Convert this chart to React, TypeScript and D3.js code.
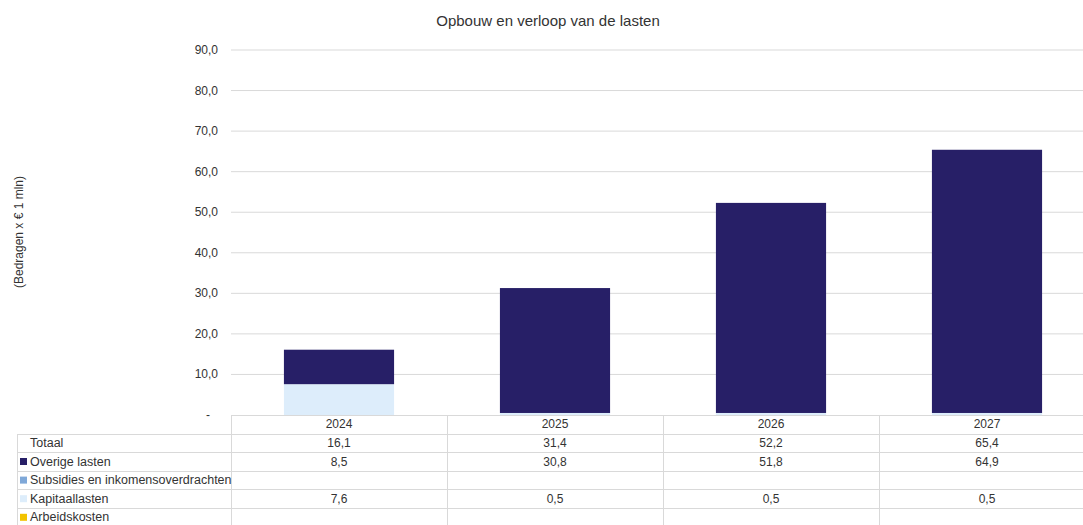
import { useEffect, useRef } from "react";
import * as d3 from "d3";

// ── Data ──────────────────────────────────────────────────────────────────────

const YEARS = ["2024", "2025", "2026", "2027"];
const TOTAAL = [16.1, 31.4, 52.2, 65.4];
const OVERIGE = [8.5, 30.8, 51.8, 64.9];
const SUBSIDIES: (number | null)[] = [null, null, null, null];
const KAPITAAL = [7.6, 0.5, 0.5, 0.5];
const ARBEID: (number | null)[] = [null, null, null, null];
const Y_TICKS = [0, 10, 20, 30, 40, 50, 60, 70, 80, 90];

const SERIES = [
  { name: "Overige lasten", color: "#271F67", values: OVERIGE },
  { name: "Subsidies en inkomensoverdrachten", color: "#7FA8D8", values: SUBSIDIES },
  { name: "Kapitaallasten", color: "#DDEDFB", values: KAPITAAL },
  { name: "Arbeidskosten", color: "#F2C300", values: ARBEID },
];

// ── Tokens ────────────────────────────────────────────────────────────────────

const W = 1083, H = 525;
const FONT = "'Liberation Sans', Arial, sans-serif";
const TXT = "#333333";
const GRID = "#D9D9D9";
const fmt = (v: number | null) => (v == null ? "" : v.toFixed(1).replace(".", ","));

export default function App() {
  const svgRef = useRef<SVGSVGElement>(null);

  useEffect(() => {
    document.body.style.margin = "0";
    if (!svgRef.current) return;

    const m = { left: 231, right: W, top: 50, bottom: 415 };

    const x = d3.scaleBand().domain(YEARS).range([m.left, m.left + 864]).paddingInner(0).paddingOuter(0);
    const y = d3.scaleLinear().domain([0, 90]).range([m.bottom, m.top]);
    const barW = x.bandwidth() * 0.51;

    const svg = d3.select(svgRef.current);
    svg.selectAll("*").remove();

    // Title
    svg.append("text")
      .attr("x", 548).attr("y", 26)
      .attr("text-anchor", "middle")
      .attr("font-size", "15px").attr("font-family", FONT).attr("fill", TXT)
      .text("Opbouw en verloop van de lasten");

    // Y label
    svg.append("text")
      .attr("transform", `translate(23,232) rotate(-90)`)
      .attr("text-anchor", "middle")
      .attr("font-size", "12px").attr("font-family", FONT).attr("fill", TXT)
      .text("(Bedragen x € 1 mln)");

    // Grid
    svg.append("g").selectAll("line")
      .data(Y_TICKS.filter(t => t > 0))
      .join("line")
      .attr("x1", m.left).attr("x2", W)
      .attr("y1", d => y(d)).attr("y2", d => y(d))
      .attr("stroke", GRID).attr("stroke-width", 1);

    // Y tick labels
    svg.append("g").selectAll("text")
      .data(Y_TICKS)
      .join("text")
      .attr("x", d => (d === 0 ? 210 : 218))
      .attr("y", d => y(d) + 4)
      .attr("text-anchor", "end")
      .attr("font-size", "12px").attr("font-family", FONT).attr("fill", TXT)
      .text(d => (d === 0 ? "-" : fmt(d)));

    // Stacked bars (bottom → top: Arbeidskosten, Kapitaallasten, Subsidies, Overige)
    const stackOrder = [...SERIES].reverse();
    YEARS.forEach((yr, i) => {
      let base = 0;
      stackOrder.forEach(s => {
        const v = s.values[i];
        if (v == null) return;
        svg.append("rect")
          .attr("x", x(yr)! + (x.bandwidth() - barW) / 2)
          .attr("y", y(base + v))
          .attr("width", barW)
          .attr("height", y(base) - y(base + v))
          .attr("fill", s.color);
        base += v;
      });
    });

    // ── Data table ──
    const rowH = 18.6;
    const top = m.bottom;
    const rows = [
      { name: "Totaal", color: null as string | null, values: TOTAAL as (number | null)[] },
      ...SERIES.map(s => ({ name: s.name, color: s.color, values: s.values })),
    ];
    const tbl = svg.append("g");

    // horizontal lines
    tbl.append("line")
      .attr("x1", m.left).attr("x2", W).attr("y1", top + 0.5).attr("y2", top + 0.5)
      .attr("stroke", GRID);
    rows.forEach((_, r) => {
      const ly = Math.round(top + rowH * (r + 1)) + 0.5;
      tbl.append("line")
        .attr("x1", 17).attr("x2", W).attr("y1", ly).attr("y2", ly)
        .attr("stroke", GRID);
    });
    // vertical lines
    tbl.append("line")
      .attr("x1", 17.5).attr("x2", 17.5)
      .attr("y1", Math.round(top + rowH) + 0.5).attr("y2", H)
      .attr("stroke", GRID);
    YEARS.forEach(yr => {
      const vx = Math.round(x(yr)!) + 0.5;
      tbl.append("line")
        .attr("x1", vx).attr("x2", vx).attr("y1", top).attr("y2", H)
        .attr("stroke", GRID);
    });

    // header years
    YEARS.forEach(yr => {
      tbl.append("text")
        .attr("x", x(yr)! + x.bandwidth() / 2)
        .attr("y", top + rowH / 2 + 4)
        .attr("text-anchor", "middle")
        .attr("font-size", "12px").attr("font-family", FONT).attr("fill", TXT)
        .text(yr);
    });

    rows.forEach((row, r) => {
      const cy = top + rowH * (r + 1) + rowH / 2;
      if (row.color) {
        tbl.append("rect")
          .attr("x", 20).attr("y", cy - 3.5)
          .attr("width", 7).attr("height", 7)
          .attr("fill", row.color);
      }
      tbl.append("text")
        .attr("x", 30).attr("y", cy + 4)
        .attr("font-size", "12.5px").attr("font-family", FONT).attr("fill", TXT)
        .text(row.name);
      row.values.forEach((v, i) => {
        tbl.append("text")
          .attr("x", x(YEARS[i])! + x.bandwidth() / 2)
          .attr("y", cy + 4)
          .attr("text-anchor", "middle")
          .attr("font-size", "12px").attr("font-family", FONT).attr("fill", TXT)
          .text(fmt(v));
      });
    });
  }, []);

  return (
    <svg
      ref={svgRef}
      width={W}
      height={H}
      style={{ position: "absolute", left: 0, top: 0, background: "#fff", display: "block" }}
    />
  );
}
